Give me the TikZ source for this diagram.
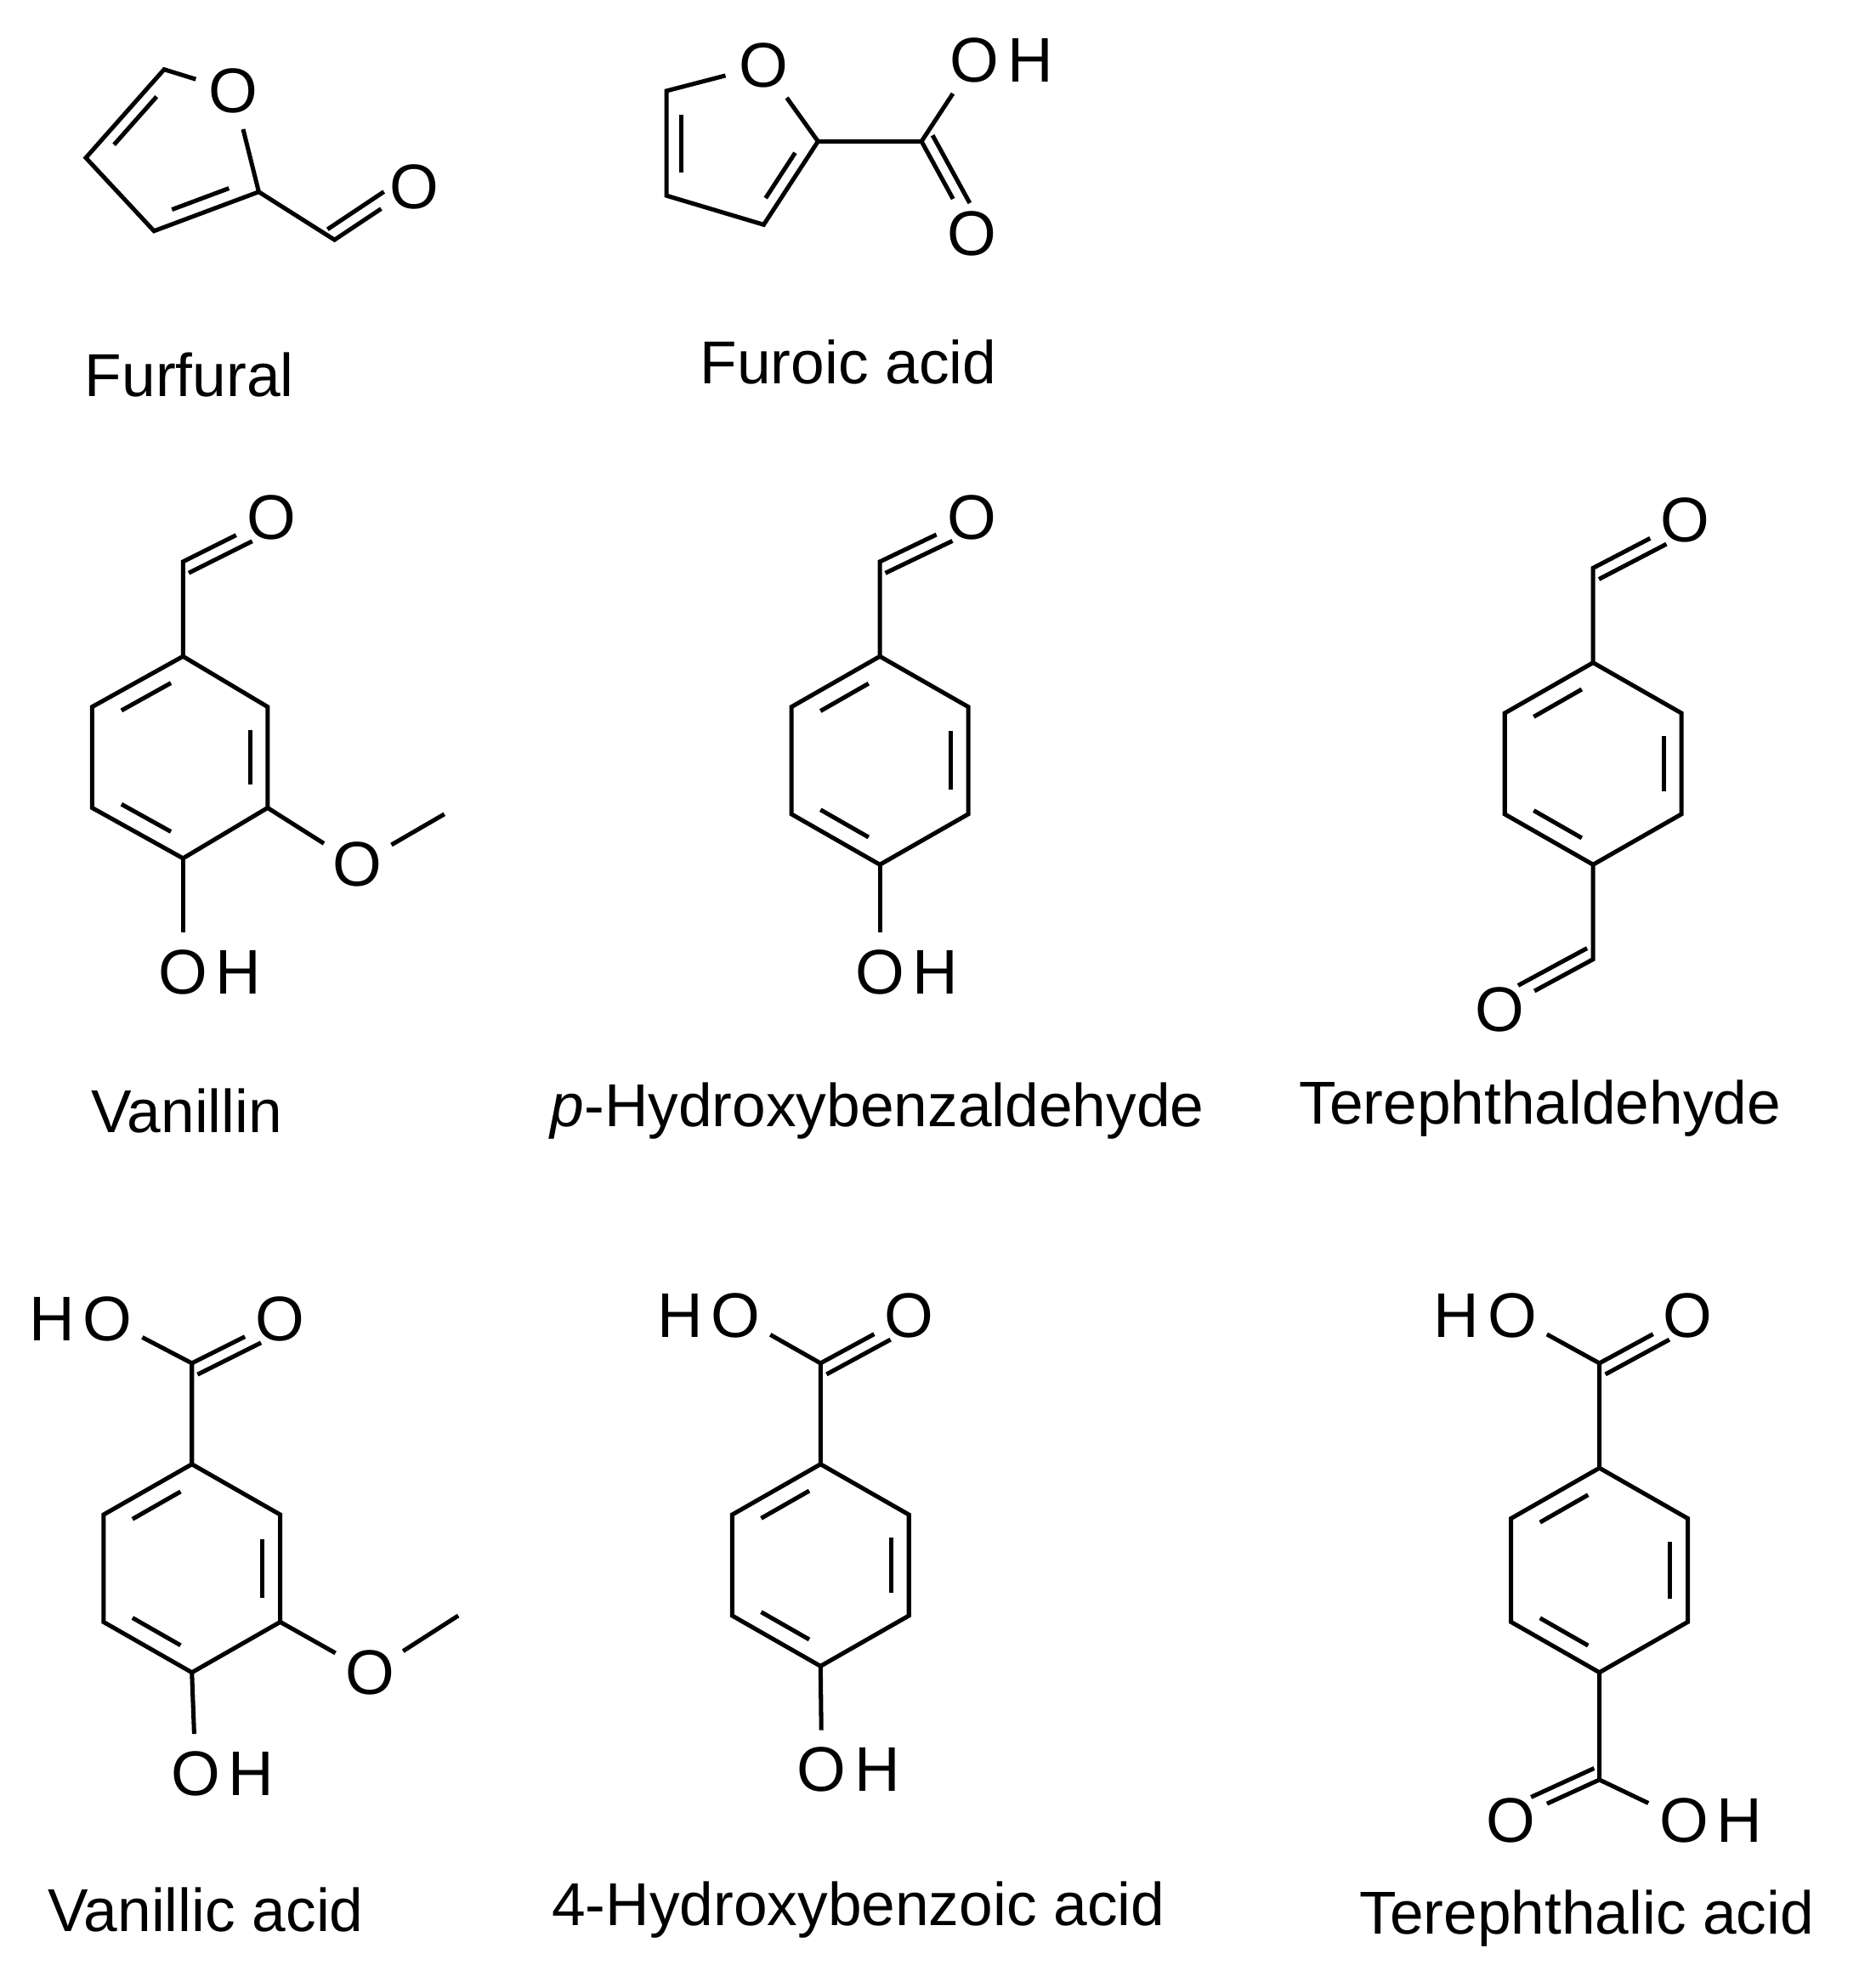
\documentclass[tikz,border=0pt]{standalone}
\usepackage{fontspec}
\setmainfont{Liberation Sans}
\usetikzlibrary{calc}
\newcommand\rdb[3]{\draw ($ ($(#1)!0.16!(#2)$) !0.2! (#3) $) -- ($ ($(#1)!0.84!(#2)$) !0.2! (#3) $);}
\newcommand\cdb[3]{\draw[shorten >=11pt] ($(#1)!5pt!#3:(#2)$) -- ($(#2)!5pt!-#3:(#1)$);}
\begin{document}
\begin{tikzpicture}[x=0.5pt,y=-0.5pt,line width=1.7pt,
  atom/.style={circle,inner sep=1.2pt,font=\fontsize{25}{25}\selectfont},
  hr/.style={inner sep=0pt,anchor=west,xshift=-3.5pt,font=\fontsize{25}{25}\selectfont},
  hl/.style={inner sep=0pt,anchor=east,xshift=3.5pt,font=\fontsize{25}{25}\selectfont},
  lbl/.style={font=\fontsize{24}{24}\selectfont}]
\fill[white] (0,0) rectangle (1472,1575);
% Furfural
\coordinate (a1) at (130,55); \coordinate (a2) at (68,125); \coordinate (a3) at (122,183); \coordinate (a4) at (205,152);
\node[atom] (aO) at (185,72) {O}; \coordinate (ac) at (140,118);
\coordinate (aC) at (265,190); \node[atom] (aO2) at (328,148) {O};
\draw (aO)--(a1)--(a2)--(a3)--(a4)--(aO); \draw (a4)--(aC)--(aO2);
\rdb{a1}{a2}{ac}\rdb{a3}{a4}{ac}\cdb{aC}{aO2}{90}
\node[lbl] at (150,297) {Furfural};
% Furoic acid
\node[atom] (bO) at (605,52) {O}; \coordinate (b1) at (528,72); \coordinate (b2) at (528,155); \coordinate (b3) at (605,178); \coordinate (b4) at (648,112);
\coordinate (bc) at (585,115); \coordinate (bC) at (730,112);
\node[atom] (bOH) at (772,48) {O}; \node[hr] at (bOH.east) {H};
\node[atom] (bO2) at (770,185) {O};
\draw (bO)--(b1)--(b2)--(b3)--(b4)--(bO); \draw (b4)--(bC)--(bOH); \draw (bC)--(bO2);
\rdb{b1}{b2}{bc}\rdb{b3}{b4}{bc}\cdb{bC}{bO2}{90}
\node[lbl] at (672,287) {Furoic acid};
% Vanillin
\coordinate (c1) at (145,520); \coordinate (c2) at (212,560); \coordinate (c3) at (212,640); \coordinate (c4) at (145,680); \coordinate (c5) at (73,640); \coordinate (c6) at (73,560); \coordinate (cc) at (143,600);
\coordinate (cC) at (145,445); \node[atom] (cO) at (215,410) {O};
\node[atom] (cOH) at (145,770) {O}; \node[hr] at (cOH.east) {H};
\node[atom] (cOM) at (283,685) {O}; \coordinate (cMe) at (352,645);
\draw (c1)--(c2)--(c3)--(c4)--(c5)--(c6)--(c1); \draw (c1)--(cC)--(cO); \draw (c4)--(cOH); \draw (c3)--(cOM)--(cMe);
\rdb{c2}{c3}{cc}\rdb{c6}{c1}{cc}\rdb{c4}{c5}{cc}\cdb{cC}{cO}{-90}
\node[lbl] at (148,880) {Vanillin};
% p-Hydroxybenzaldehyde
\coordinate (d1) at (697,520); \coordinate (d2) at (767,560); \coordinate (d3) at (767,645); \coordinate (d4) at (697,685); \coordinate (d5) at (627,645); \coordinate (d6) at (627,560); \coordinate (dc) at (697,602);
\coordinate (dC) at (697,445); \node[atom] (dO) at (770,410) {O};
\node[atom] (dOH) at (697,770) {O}; \node[hr] at (dOH.east) {H};
\draw (d1)--(d2)--(d3)--(d4)--(d5)--(d6)--(d1); \draw (d1)--(dC)--(dO); \draw (d4)--(dOH);
\rdb{d2}{d3}{dc}\rdb{d6}{d1}{dc}\rdb{d4}{d5}{dc}\cdb{dC}{dO}{-90}
\node[lbl] at (695,880) {\textit{p}-Hydroxybenzaldehyde};
% Terephthaldehyde
\coordinate (e1) at (1262,525); \coordinate (e2) at (1332,565); \coordinate (e3) at (1332,645); \coordinate (e4) at (1262,685); \coordinate (e5) at (1192,645); \coordinate (e6) at (1192,565); \coordinate (ec) at (1262,605);
\coordinate (eC) at (1262,450); \node[atom] (eO) at (1335,412) {O};
\coordinate (eC2) at (1262,760); \node[atom] (eO2) at (1188,800) {O};
\draw (e1)--(e2)--(e3)--(e4)--(e5)--(e6)--(e1); \draw (e1)--(eC)--(eO); \draw (e4)--(eC2)--(eO2);
\rdb{e2}{e3}{ec}\rdb{e6}{e1}{ec}\rdb{e4}{e5}{ec}\cdb{eC}{eO}{-90}\cdb{eC2}{eO2}{-90}
\node[lbl] at (1220,878) {Terephthaldehyde};
% Vanillic acid
\coordinate (f1) at (152,1160); \coordinate (f2) at (222,1200); \coordinate (f3) at (222,1285); \coordinate (f4) at (152,1325); \coordinate (f5) at (82,1285); \coordinate (f6) at (82,1200); \coordinate (fc) at (152,1243);
\coordinate (fC) at (152,1080); \node[atom] (fO) at (222,1045) {O};
\node[atom] (fHO) at (85,1045) {O}; \node[hl] at (fHO.west) {H};
\node[atom] (fOH) at (155,1405) {O}; \node[hr] at (fOH.east) {H};
\node[atom] (fOM) at (293,1325) {O}; \coordinate (fMe) at (363,1280);
\draw (f1)--(f2)--(f3)--(f4)--(f5)--(f6)--(f1); \draw (f1)--(fC)--(fO); \draw (fC)--(fHO); \draw (f4)--(fOH); \draw (f3)--(fOM)--(fMe);
\rdb{f2}{f3}{fc}\rdb{f6}{f1}{fc}\rdb{f4}{f5}{fc}\cdb{fC}{fO}{-90}
\node[lbl] at (163,1513) {Vanillic acid};
% 4-Hydroxybenzoic acid
\coordinate (g1) at (650,1160); \coordinate (g2) at (720,1200); \coordinate (g3) at (720,1280); \coordinate (g4) at (650,1320); \coordinate (g5) at (580,1280); \coordinate (g6) at (580,1200); \coordinate (gc) at (650,1240);
\coordinate (gC) at (650,1080); \node[atom] (gO) at (720,1042) {O};
\node[atom] (gHO) at (583,1042) {O}; \node[hl] at (gHO.west) {H};
\node[atom] (gOH) at (651,1402) {O}; \node[hr] at (gOH.east) {H};
\draw (g1)--(g2)--(g3)--(g4)--(g5)--(g6)--(g1); \draw (g1)--(gC)--(gO); \draw (gC)--(gHO); \draw (g4)--(gOH);
\rdb{g2}{g3}{gc}\rdb{g6}{g1}{gc}\rdb{g4}{g5}{gc}\cdb{gC}{gO}{-90}
\node[lbl] at (680,1513) {4-Hydroxybenzoic acid};
% Terephthalic acid
\coordinate (h1) at (1267,1163); \coordinate (h2) at (1337,1203); \coordinate (h3) at (1337,1285); \coordinate (h4) at (1267,1325); \coordinate (h5) at (1197,1285); \coordinate (h6) at (1197,1203); \coordinate (hc) at (1267,1244);
\coordinate (hC) at (1267,1080); \node[atom] (hO) at (1337,1042) {O};
\node[atom] (hHO) at (1198,1042) {O}; \node[hl] at (hHO.west) {H};
\coordinate (hC2) at (1267,1410); \node[atom] (hO2) at (1197,1442) {O};
\node[atom] (hOH) at (1334,1442) {O}; \node[hr] at (hOH.east) {H};
\draw (h1)--(h2)--(h3)--(h4)--(h5)--(h6)--(h1); \draw (h1)--(hC)--(hO); \draw (hC)--(hHO); \draw (h4)--(hC2)--(hO2); \draw (hC2)--(hOH);
\rdb{h2}{h3}{hc}\rdb{h6}{h1}{hc}\rdb{h4}{h5}{hc}\cdb{hC}{hO}{-90}\cdb{hC2}{hO2}{-90}
\node[lbl] at (1257,1520) {Terephthalic acid};
\end{tikzpicture}
\end{document}
